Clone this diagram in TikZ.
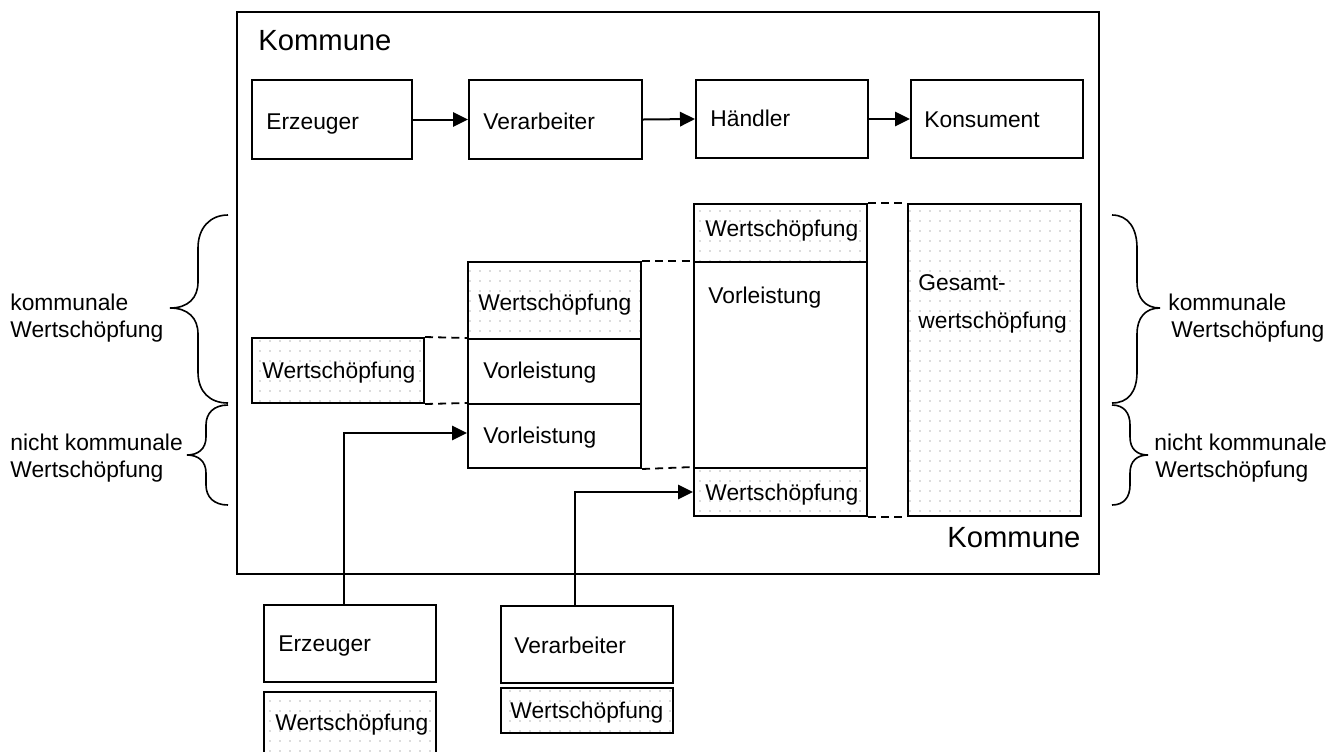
\documentclass[tikz,border=0pt]{standalone}
\usepackage{fontspec}
\setmainfont{Liberation Sans}
\usetikzlibrary{fit,arrows.meta,patterns.meta}
\begin{document}
\begin{tikzpicture}[x=0.5pt,y=-0.5pt,
  box/.style={draw,line width=1pt,inner sep=0pt,fill=white},
  dotbox/.style={box,pattern={Dots[distance=5pt,radius=0.42pt]},pattern color=black!28},
  outerbox/.style={draw,line width=0.9pt,inner sep=0pt},
  lbl/.style={inner sep=0pt,anchor=base west,font=\fontsize{11.4pt}{13pt}\selectfont},
  big/.style={inner sep=0pt,anchor=base west,font=\fontsize{14.6pt}{17pt}\selectfont},
  arr/.style={line width=1pt,-{Triangle[length=7.5pt,width=7.2pt]}},
  dashline/.style={line width=0.9pt,dash pattern=on 4pt off 2.6pt},
  bracepath/.style={line width=0.8pt}]
\useasboundingbox (0,0) rectangle (1337,751);
\clip (0,0) rectangle (1337,751);

% outer frame
\node[outerbox,fit={(237,12) (1099,574)}] (kom) {};
\node[big] (komt) at (258,50) {Kommune};
\node[big] (komb) at (947,547) {Kommune};

% top chain
\node[box,fit={(252,80) (412,159)}] (erz) {};
\node[lbl] (erzt) at (266,129) {Erzeuger};
\node[box,fit={(469,80) (642,159)}] (ver) {};
\node[lbl] (vert) at (483,129) {Verarbeiter};
\node[box,fit={(696,80) (868,158)}] (hae) {};
\node[lbl] (haet) at (710,126) {Händler};
\node[box,fit={(911,80) (1083,158)}] (kon) {};
\node[lbl] (kont) at (924,127) {Konsument};
\draw[arr] (erz.east) -- (ver.west);
\draw[arr] (ver.east) -- (hae.west);
\draw[arr] (hae.east) -- (kon.west);

% column 1
\node[dotbox,fit={(252,338) (424,403)}] (w1) {};
\node[lbl] (w1t) at (262,378) {Wertschöpfung};

% column 2
\node[dotbox,fit={(468,262) (641,339)}] (w2) {};
\node[lbl] (w2t) at (478,310) {Wertschöpfung};
\node[box,fit={(468,339) (641,404)}] (v2a) {};
\node[lbl] (v2at) at (483,378) {Vorleistung};
\node[box,fit={(468,404) (641,468)}] (v2b) {};
\node[lbl] (v2bt) at (483,443) {Vorleistung};

% column 3
\node[dotbox,fit={(694,204) (867,262)}] (w3a) {};
\node[lbl] (w3at) at (705,236) {Wertschöpfung};
\node[box,fit={(694,262) (867,468)}] (v3) {};
\node[lbl] (v3t) at (708,303) {Vorleistung};
\node[dotbox,fit={(694,468) (867,516)}] (w3b) {};
\node[lbl] (w3bt) at (705,500) {Wertschöpfung};

% column 4
\node[dotbox,fit={(908,204) (1081,516)}] (ges) {};
\node[lbl] (gest1) at (918,290) {Gesamt-};
\node[lbl] (gest2) at (918,328) {wertschöpfung};

% dashed guide lines
\draw[dashline] (w1.north east) -- (v2a.north west);
\draw[dashline] (w1.south east) -- (v2b.north west);
\draw[dashline] (w2.north east) -- (v3.north west);
\draw[dashline] (v2b.south east) -- (w3b.north west);
\draw[dashline] (w3a.north east) -- (ges.north west);
\draw[dashline] (w3b.south east) -- (ges.south west);

% outside producers
\node[box,fit={(264,605) (436,682)}] (berz) {};
\node[lbl] (berzt) at (278,651) {Erzeuger};
\node[dotbox,fit={(264,692) (436,790)}] (bw1) {};
\node[lbl] (bw1t) at (275,730) {Wertschöpfung};
\node[box,fit={(501,606) (673,683)}] (bver) {};
\node[lbl] (bvert) at (514,653) {Verarbeiter};
\node[dotbox,fit={(501,688) (673,733)}] (bw2) {};
\node[lbl] (bw2t) at (510,718) {Wertschöpfung};

\draw[arr] ([xshift=-3pt]berz.north) |- ([yshift=1.5pt]v2b.west);
\draw[arr] ([xshift=-6pt]bver.north) |- (w3b.west);

% braces left
\draw[bracepath] (228,215) .. controls (210,215) and (198,228) .. (198,248) -- (198,282)
  .. controls (198,298) and (188,308) .. (170,308)
  .. controls (188,308) and (198,318) .. (198,334) -- (198,372)
  .. controls (198,392) and (210,403) .. (228,403);
\draw[bracepath] (228,405) .. controls (214,405) and (206,413) .. (206,425) -- (206,437)
  .. controls (206,449) and (198,455) .. (187,455)
  .. controls (198,455) and (206,461) .. (206,473) -- (206,485)
  .. controls (206,497) and (214,505) .. (228,505);
% braces right
\draw[bracepath] (1112,215) .. controls (1128,215) and (1137,228) .. (1137,248) -- (1137,282)
  .. controls (1137,298) and (1145,308) .. (1160,308)
  .. controls (1145,308) and (1137,318) .. (1137,334) -- (1137,372)
  .. controls (1137,392) and (1128,403) .. (1112,403);
\draw[bracepath] (1112,405) .. controls (1124,405) and (1130,413) .. (1130,425) -- (1130,437)
  .. controls (1130,449) and (1137,455) .. (1148,455)
  .. controls (1137,455) and (1130,461) .. (1130,473) -- (1130,485)
  .. controls (1130,497) and (1124,505) .. (1112,505);

% brace labels
\node[lbl] (lk1) at (10,310) {kommunale};
\node[lbl] (lk2) at (10,337) {Wertschöpfung};
\node[lbl] (ln1) at (10,450) {nicht kommunale};
\node[lbl] (ln2) at (10,477) {Wertschöpfung};
\node[lbl] (rk1) at (1168,310) {kommunale};
\node[lbl] (rk2) at (1171,337) {Wertschöpfung};
\node[lbl] (rn1) at (1154,450) {nicht kommunale};
\node[lbl] (rn2) at (1155,477) {Wertschöpfung};
\end{tikzpicture}
\end{document}
